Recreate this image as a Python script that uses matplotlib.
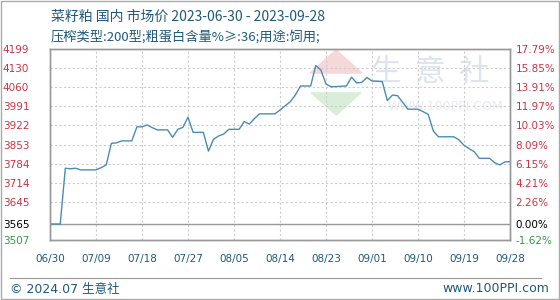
import numpy as np
import pandas as pd
import matplotlib
matplotlib.use("Agg")
from matplotlib import pyplot as plt
from matplotlib.patches import Rectangle, Polygon

plt.rcParams['font.family'] = ['Noto Sans CJK SC', 'DejaVu Sans']

# daily prices 2023-06-30 .. 2023-09-28 (yuan/ton)
dates = pd.date_range("2023-06-30", "2023-09-28", freq="D")
prices = [3565, 3565, 3565, 3767, 3765, 3767, 3761, 3761, 3761, 3761,
          3769, 3779, 3857, 3859, 3866, 3866, 3866, 3917, 3917, 3924,
          3914, 3906, 3906, 3906, 3879, 3908, 3915, 3952, 3897, 3897,
          3897, 3829, 3872, 3884, 3891, 3908, 3908, 3908, 3936, 3927,
          3947, 3964, 3964, 3964, 3964, 3978, 3993, 4008, 4032, 4065,
          4065, 4065, 4139, 4123, 4072, 4062, 4063, 4064, 4065, 4097,
          4076, 4078, 4096, 4083, 4082, 4081, 4012, 4032, 4030, 4006,
          3981, 3981, 3981, 3972, 3962, 3902, 3881, 3881, 3881, 3881,
          3870, 3850, 3838, 3827, 3803, 3803, 3803, 3787, 3779, 3790,
          3791]

base = 3565
left_ticks = [4199, 4130, 4060, 3991, 3922, 3853, 3784, 3714, 3645, 3565, 3507]
right_labels = ["17.79%", "15.85%", "13.91%", "11.97%", "10.03%", "8.09%",
                "6.15%", "4.21%", "2.26%", "0.00%", "-1.62%"]
x_labels = ["06/30", "07/09", "07/18", "07/27", "08/05", "08/14",
            "08/23", "09/01", "09/10", "09/19", "09/28"]

title1 = "菜籽粕 国内 市场价 2023-06-30 - 2023-09-28"
title2 = "压榨类型:200型;粗蛋白含量%≥:36;用途:饲用;"

red = "#cc3344"
green = "#339944"
blue = "#1f5a7a"


def tick_color(v):
    if v == base:
        return "black"
    return green if v < base else red


fig = plt.figure(figsize=(5.6, 3.0), dpi=100)
ax = fig.add_axes([50 / 560, 60 / 300, 460 / 560, 191 / 300])

# watermark
for xc, ch in zip([0.73, 0.825, 0.92], "生意社"):
    ax.text(xc, 0.875, ch, transform=ax.transAxes, fontsize=22,
            color="#dfe3eb", ha="center", va="center", zorder=0)
ax.text(0.86, 0.70, "WWW.100PPI.COM", transform=ax.transAxes, fontsize=9,
        color="#e8eaf0", ha="center", va="center", zorder=0, family="DejaVu Sans")
ax.add_patch(Polygon([[0.565, 0.874], [0.622, 0.995], [0.678, 0.874]], closed=True,
                     transform=ax.transAxes, color="#f6d8d8", zorder=0))
ax.add_patch(Polygon([[0.568, 0.77], [0.622, 0.654], [0.676, 0.77]], closed=True,
                     transform=ax.transAxes, color="#d8eed8", zorder=0))

ax.plot(dates, prices, color="#4a8db3", lw=1.0, zorder=3)
ax.axhline(base, color="#999999", lw=1.0, zorder=2)

ax.set_xlim(dates[0], dates[-1])
ax.set_ylim(3507, 4199)
ax.set_xticks(dates[::9])
ax.set_xticklabels(x_labels, fontsize=7.5, color=blue, family="DejaVu Sans")
ax.set_yticks(left_ticks)
ax.set_yticklabels([str(v) for v in left_ticks], fontsize=7.5, family="DejaVu Sans")
for lab, v in zip(ax.get_yticklabels(), left_ticks):
    lab.set_color(tick_color(v))
ax.tick_params(axis="both", length=0)
ax.tick_params(axis="y", pad=15)
ax.tick_params(axis="x", pad=10)
ax.grid(True, color="#cccccc", ls=(0, (2, 2)), lw=0.8)

ax2 = ax.twinx()
ax2.set_ylim(3507, 4199)
ax2.set_yticks(left_ticks)
ax2.set_yticklabels(right_labels, fontsize=7.5, family="DejaVu Sans")
for lab, v in zip(ax2.get_yticklabels(), left_ticks):
    lab.set_color(tick_color(v))
ax2.tick_params(axis="y", length=0, pad=4)

for a in (ax, ax2):
    for s in a.spines.values():
        s.set_color("#999999")
        s.set_linewidth(1.0)

fig.text(51 / 560, 1 - 17 / 300, title1, fontsize=10, color=blue, va="center")
fig.text(51 / 560, 1 - 37 / 300, title2, fontsize=9.5, color=blue, va="center")

fig.add_artist(plt.Line2D([10 / 560, 541 / 560], [1 - 278 / 300, 1 - 278 / 300],
                          color="#999999", lw=0.8))
fig.text(10 / 560, 1 - 289 / 300, "© 2024.07 生意社", fontsize=9, color=blue, va="center",
         family=["DejaVu Sans", "Noto Sans CJK SC"])
fig.text(549 / 560, 1 - 289 / 300, "www.100PPI.com", fontsize=9, color=blue,
         va="center", ha="right", family="DejaVu Sans")
fig.add_artist(Rectangle((0.001, 0.002), 0.997, 0.996, transform=fig.transFigure,
                         fill=False, edgecolor="#aaaaaa", lw=1.0))

fig.savefig("out.png", dpi=100)
